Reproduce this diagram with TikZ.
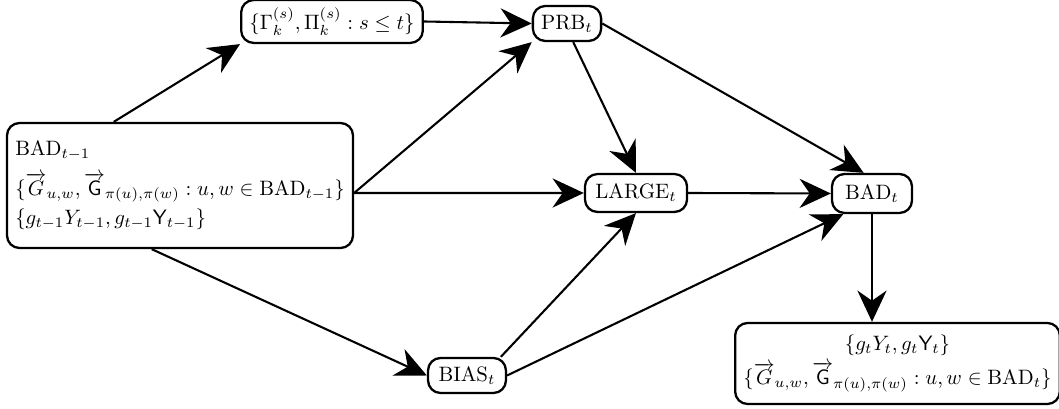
\documentclass[tikz,border=0pt]{standalone}
\usepackage{amsmath,amssymb}
\usetikzlibrary{arrows.meta}
\begin{document}
\begin{tikzpicture}[x=0.48pt,y=-0.48pt,
    box/.style={draw,line width=1.1pt,rounded corners=6pt,inner xsep=4pt,inner ysep=3pt},
    arr/.style={line width=1pt,-{Stealth[length=15pt,width=14pt]}}]
        \useasboundingbox (0,0) rectangle (1059,409);
        % nodes
        \node [box,minimum width=166pt,minimum height=60pt,align=left] (badprev) at (180,185.5)
            {$\mathrm{BAD}_{t-1}$\\[5pt]
             $\{\overrightarrow{G}_{u,w},\overrightarrow{\mathsf{G}}_{\pi(u),\pi(w)}:u,w\in\mathrm{BAD}_{t-1}\}$\\[2pt]
             $\{g_{t-1}Y_{t-1},g_{t-1}\mathsf{Y}_{t-1}\}$};
        \node [box,minimum width=84pt,minimum height=20.6pt] (gampi) at (332,21.5)
            {$\{\Gamma_k^{(s)},\Pi_k^{(s)}:s\leq t\}$};
        \node [box,minimum width=32.6pt,minimum height=16.8pt] (prb) at (567,23.5) {$\mathrm{PRB}_t$};
        \node [box,minimum width=49pt,minimum height=18.2pt] (large) at (636,193) {$\mathrm{LARGE}_t$};
        \node [box,minimum width=38.4pt,minimum height=18.7pt] (badt) at (872,193.5) {$\mathrm{BAD}_t$};
        \node [box,minimum width=37.4pt,minimum height=16.8pt] (bias) at (467,375.5) {$\mathrm{BIAS}_t$};
        \node [box,minimum width=153pt,minimum height=38.9pt,align=center] (badnext) at (897.5,363.5)
            {$\{g_tY_t,g_t\mathsf{Y}_t\}$\\[2pt]
             $\{\overrightarrow{G}_{u,w},\overrightarrow{\mathsf{G}}_{\pi(u),\pi(w)}:u,w\in\mathrm{BAD}_t\}$};
        % connectors
        \draw [arr] ([xshift=51.8pt]badprev.north west) -- (gampi.south west);
        \draw [arr] (gampi.east) -- (prb.west);
        \draw [arr] ([yshift=-3.6pt]badprev.east) -- (prb.south west);
        \draw [arr] ([yshift=-3.6pt]badprev.east) -- (large.west);
        \draw [arr] ([xshift=70pt]badprev.south west) -- (bias.west);
        \draw [arr] ([xshift=3pt]prb.south) -- (large.north);
        \draw [arr] (prb.east) -- ([xshift=-4pt]badt.north);
        \draw [arr] (large.east) -- (badt.west);
        \draw [arr] ([xshift=-3pt]bias.north east) -- (large.south);
        \draw [arr] (bias.east) -- ([xshift=6pt]badt.south west);
        \draw [arr] (badt.south) -- (badt.south |- badnext.north);
\end{tikzpicture}
\end{document}
